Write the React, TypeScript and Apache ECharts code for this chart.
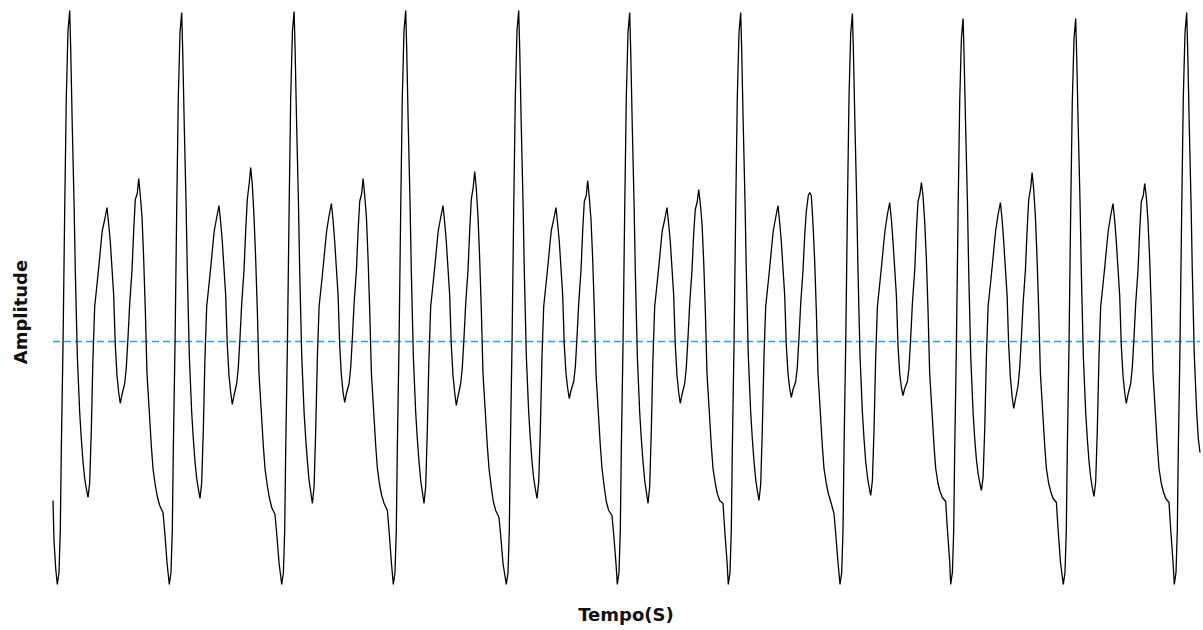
import React, { useEffect, useRef } from "react";
import * as echarts from "echarts";

// Time axis in samples (0 .. 1147); amplitude in arbitrary units (zero = dashed reference line)
const xMax = 1147;
const yMin = -250;
const yMax = 340;

// Samples before the first trough
const leadTimes = [0, 1, 2.7];
const leadValues = [-159, -199, -227];

// Time of each trough (start of each cycle)
const troughTimes = [4.3, 116.3, 228.7, 340.3, 453.3, 564.3, 675.3, 787, 897.7, 1010.3, 1121.3];

// Sample offsets inside one cycle (relative to its trough)
const sampleOffsets = [
  0, 1.7, 3, 4, 5.7, 7.4, 9, 10.7, 12.4, 13.4,
  15, 16.7, 18, 20, 22.4, 24, 25.7, 27.4, 29, 30.7,
  32.4, 34, 35.7, 37.4, 40, 41.7, 43.4, 45, 47.4, 49.7,
  51.4, 53, 54.7, 56.4, 58, 59.7, 61.4, 63, 64.7, 67.4,
  69, 70.7, 72.4, 74.7, 76.4, 78, 80, 81.4, 83, 84.7,
  86.4, 88, 89.7, 92.4, 94, 95.7, 98, 100, 102.4, 105.7,
  107.4, 109.7,
];

// Amplitudes of every cycle
const cycle1 = [-243,-231,-189,-109,-4,131,244,311,331,293, 214,141,71,-14,-71,-97,-120,-137,-147,-156, -141,-89,-15,35,60,77,95,111,122,134, 117,100,73,46,-4,-34,-51,-62,-53,-42, -26,4,38,71,111,142,148,163,146,125, 82,32,-32,-77,-104,-127,-144,-155,-164,-171, -190,-221];
const cycle2 = [-243,-231,-189,-109,-4,131,244,309,329,291, 214,141,71,-14,-71,-97,-120,-137,-147,-157, -141,-89,-15,35,60,77,95,111,124,136, 119,100,73,46,-4,-34,-51,-63,-54,-42, -26,4,38,71,111,142,159,174,157,125, 82,32,-32,-77,-104,-127,-144,-156,-166,-173, -192,-221];
const cycle3 = [-243,-231,-189,-109,-4,131,244,310,330,292, 214,141,71,-14,-71,-97,-120,-139,-150,-162, -145,-89,-15,35,60,77,95,111,126,138, 121,100,73,46,-4,-34,-51,-61,-52,-42, -26,4,38,71,111,140,148,163,146,125, 82,32,-32,-77,-104,-127,-144,-154,-162,-169, -190,-221];
const cycle4 = [-243,-231,-189,-109,-4,131,244,311,331,293, 214,141,71,-14,-71,-97,-120,-139,-150,-162, -145,-89,-15,35,60,77,95,111,124,136, 119,100,73,46,-4,-34,-51,-64,-55,-42, -26,4,38,71,111,142,155,170,153,125, 82,32,-32,-77,-104,-127,-146,-160,-169,-176, -194,-222];
const cycle5 = [-243,-231,-189,-109,-4,131,244,311,331,293, 214,141,71,-14,-71,-97,-120,-137,-147,-157, -141,-89,-15,35,60,77,95,111,122,134, 117,100,73,46,-4,-32,-47,-57,-49,-40, -26,4,38,71,111,140,146,161,144,122, 82,32,-32,-77,-104,-127,-146,-160,-169,-174, -193,-222];
const cycle6 = [-243,-231,-189,-109,-4,131,244,309,329,291, 214,141,71,-14,-71,-97,-120,-139,-150,-162, -145,-89,-15,35,60,77,95,111,122,134, 117,100,73,46,-4,-34,-51,-62,-53,-42, -26,4,38,71,108,132,140,152,138,118, 80,32,-32,-77,-104,-127,-142,-152,-159,-162, -188,-220];
const cycle7 = [-243,-231,-189,-109,-4,131,244,309,329,291, 214,141,71,-14,-71,-97,-120,-138,-149,-159, -143,-89,-15,35,60,77,95,111,124,136, 119,100,73,46,-4,-32,-47,-56,-48,-40, -26,4,38,71,106,130,146,149,146,118, 80,32,-32,-77,-104,-127,-142,-152,-160,-172, -192,-221];
const cycle8 = [-243,-231,-189,-109,-4,131,244,308,328,290, 214,141,71,-14,-71,-97,-120,-135,-145,-154, -139,-89,-15,35,60,77,95,111,127,139, 122,100,73,46,-4,-32,-46,-54,-47,-40, -26,4,38,71,111,140,148,159,146,120, 82,32,-32,-77,-104,-127,-142,-150,-156,-160, -188,-220];
const cycle9 = [-243,-231,-189,-109,-4,131,240,303,323,285, 212,141,71,-14,-71,-97,-118,-132,-141,-149, -136,-89,-15,35,60,77,95,111,127,139, 122,100,73,46,-4,-36,-55,-67,-58,-44, -26,4,38,71,111,142,154,169,152,125, 82,32,-32,-77,-104,-127,-142,-150,-157,-161, -188,-220];
const cycle10 = [-243,-231,-189,-109,-4,131,240,303,323,285, 212,141,71,-14,-71,-97,-120,-136,-146,-155, -140,-89,-15,35,60,77,95,111,126,138, 121,100,73,46,-4,-34,-51,-62,-53,-42, -26,4,38,71,111,140,146,158,145,120, 82,32,-32,-77,-104,-127,-142,-150,-157,-161, -188,-220];
const cycle11 = [-243,-231,-189,-109,-4,131,244,309,329,291, 214,141,71,-14,-71,-97];

const cycles = [cycle1, cycle2, cycle3, cycle4, cycle5, cycle6, cycle7, cycle8, cycle9, cycle10, cycle11];

// Last sample
const tailTime = 1147;
const tailValue = -111;

// Reference (zero) level drawn dashed across the whole time range
const zeroLevel = 0;

const xTitle = "Tempo(S)";
const yTitle = "Amplitude";

function buildData(): [number, number][] {
  const out: [number, number][] = [];
  leadTimes.forEach((t, i) => out.push([t, leadValues[i]]));
  cycles.forEach((vals, c) => {
    vals.forEach((v, i) => out.push([troughTimes[c] + sampleOffsets[i], v]));
  });
  out.push([tailTime, tailValue]);
  return out;
}

export default function App() {
  const ref = useRef<HTMLDivElement>(null);

  useEffect(() => {
    if (!ref.current) return;
    const chart = echarts.init(ref.current, undefined, { renderer: "svg" });
    const option: any = {
      animation: false,
      backgroundColor: "#ffffff",
      grid: { left: 53, right: 3, top: 1.5, bottom: 38.5 },
      xAxis: {
        type: "value",
        min: 0,
        max: xMax,
        show: false,
      },
      yAxis: {
        type: "value",
        min: yMin,
        max: yMax,
        show: false,
      },
      series: [
        {
          name: "zero",
          type: "line",
          data: [
            [0, zeroLevel],
            [xMax, zeroLevel],
          ],
          showSymbol: false,
          symbol: "none",
          silent: true,
          z: 1,
          color: "#1ea9e4",
          lineStyle: { color: "#1ea9e4", type: [7, 4], width: 1.3 },
        },
        {
          name: "signal",
          type: "line",
          data: buildData(),
          showSymbol: false,
          symbol: "none",
          smooth: false,
          z: 2,
          color: "#000000",
          lineStyle: { color: "#000000", width: 1.3 },
        },
      ],
      graphic: [
        {
          type: "text",
          x: 626,
          y: 614,
          style: {
            text: xTitle,
            font: "bold 18px 'DejaVu Sans'",
            fill: "#111111",
            textAlign: "center",
            textVerticalAlign: "middle",
          },
        },
        {
          type: "text",
          x: 20,
          y: 312,
          rotation: Math.PI / 2,
          style: {
            text: yTitle,
            font: "bold 18px 'DejaVu Sans'",
            fill: "#111111",
            textAlign: "center",
            textVerticalAlign: "middle",
          },
        },
      ],
    };
    chart.setOption(option);
    return () => chart.dispose();
  }, []);

  return (
    <div
      ref={ref}
      style={{ position: "fixed", left: 0, top: 0, width: 1203, height: 630, background: "#fff" }}
    />
  );
}
